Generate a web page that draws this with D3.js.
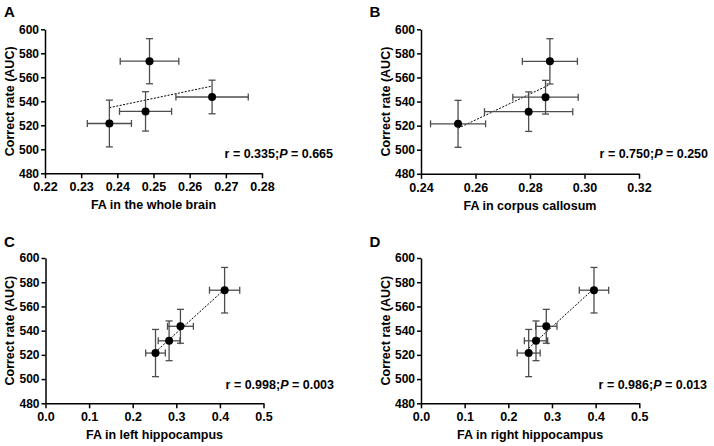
<!DOCTYPE html>
<html lang="en">
<head>
  <meta charset="UTF-8">
  <title>FA vs correct rate</title>
  <script src="https://d3js.org/d3.v7.min.js"></script>
  <style>
    body { margin: 0; background: #fff; }
    text { font-family: Arial, "Liberation Sans", sans-serif; font-weight: bold; }
    .axis path, .axis line { stroke: #000; stroke-width: 1.5; }
    .axis text { fill: #000; }
  </style>
</head>
<body>
  <svg width="714" height="446"></svg>
  <script>
    // shared y values (correct rate, AUC) with SD
    const auc = [521.5, 531.6, 543.6, 573.4];
    const aucErr = [19.5, 16.4, 14, 18.8];
    const yTicks = [480, 500, 520, 540, 560, 580, 600];

    // FA per region, same order as auc
    const faWhole = [0.2378, 0.2478, 0.2662, 0.2489];
    const faWholeErr = [0.0061, 0.0072, 0.0100, 0.0081];
    const faCallosum = [0.2536, 0.2795, 0.2857, 0.2873];
    const faCallosumErr = [0.0101, 0.0162, 0.0120, 0.0101];
    const faLeftHip = [0.2523, 0.2835, 0.3095, 0.4108];
    const faLeftHipErr = [0.0225, 0.0250, 0.0297, 0.0347];
    const faRightHip = [0.2466, 0.2634, 0.2870, 0.3962];
    const faRightHipErr = [0.0263, 0.0267, 0.0244, 0.0336];

    const wholeTicks = [0.22, 0.23, 0.24, 0.25, 0.26, 0.27, 0.28];
    const callosumTicks = [0.24, 0.26, 0.28, 0.30, 0.32];
    const hipTicks = [0, 0.1, 0.2, 0.3, 0.4, 0.5];

    const panels = [
      { letter: "A", x: faWhole, xErr: faWholeErr, ticks: wholeTicks, fmt: ".2f",
        title: "FA in the whole brain", r: "0.335", p: "0.665",
        left: 45, right: 262, top: 29.3, bottom: 173.3, lx: 4, ly: 16.5, statX: 333, statY: 158 },
      { letter: "B", x: faCallosum, xErr: faCallosumErr, ticks: callosumTicks, fmt: ".2f",
        title: "FA in corpus callosum", r: "0.750", p: "0.250",
        left: 421, right: 639, top: 29.3, bottom: 173.8, lx: 369.5, ly: 16.5, statX: 708, statY: 158 },
      { letter: "C", x: faLeftHip, xErr: faLeftHipErr, ticks: hipTicks, fmt: ".1f",
        title: "FA in left hippocampus", r: "0.998", p: "0.003",
        left: 45.5, right: 263.5, top: 258, bottom: 403.3, lx: 4, ly: 247, statX: 334, statY: 389 },
      { letter: "D", x: faRightHip, xErr: faRightHipErr, ticks: hipTicks, fmt: ".1f",
        title: "FA in right hippocampus", r: "0.986", p: "0.013",
        left: 421, right: 639.3, top: 258, bottom: 403.3, lx: 369.5, ly: 247, statX: 707, statY: 389 }
    ];

    const svg = d3.select("svg");

    function regression(xs, ys) {
      const mx = d3.mean(xs), my = d3.mean(ys);
      let sxy = 0, sxx = 0;
      xs.forEach((x, i) => {
        sxy += (x - mx) * (ys[i] - my);
        sxx += (x - mx) * (x - mx);
      });
      const slope = sxy / sxx;
      return x => my + slope * (x - mx);
    }

    panels.forEach(p => {
      const g = svg.append("g");

      const x = d3.scaleLinear()
        .domain(d3.extent(p.ticks))
        .range([p.left, p.right]);
      const y = d3.scaleLinear()
        .domain([480, 600])
        .range([p.bottom, p.top]);

      g.append("g")
        .attr("class", "axis")
        .attr("transform", `translate(0,${p.bottom})`)
        .call(d3.axisBottom(x).tickValues(p.ticks).tickFormat(d3.format(p.fmt))
          .tickSize(5).tickSizeOuter(0).tickPadding(4))
        .selectAll("text").style("font-size", "12.5px");

      g.append("g")
        .attr("class", "axis")
        .attr("transform", `translate(${p.left},0)`)
        .call(d3.axisLeft(y).tickValues(yTicks).tickSize(4).tickSizeOuter(0).tickPadding(2))
        .selectAll("text").style("font-size", "12px");

      // titles
      g.append("text")
        .attr("x", (p.left + p.right) / 2)
        .attr("y", p.bottom + 36)
        .attr("text-anchor", "middle")
        .style("font-size", "12.5px")
        .text(p.title);

      g.append("text")
        .attr("transform", `translate(${p.left - 31.5},${(p.top + p.bottom) / 2}) rotate(-90)`)
        .attr("text-anchor", "middle")
        .style("font-size", "12.5px")
        .text("Correct rate (AUC)");

      g.append("text")
        .attr("x", p.lx)
        .attr("y", p.ly)
        .style("font-size", "15px")
        .text(p.letter);

      // stats text
      const st = g.append("text")
        .attr("x", p.statX)
        .attr("y", p.statY)
        .attr("text-anchor", "end")
        .style("font-size", "12.5px");
      st.append("tspan").text(`r = ${p.r};`);
      st.append("tspan").style("font-style", "italic").text("P");
      st.append("tspan").text(` = ${p.p}`);

      // regression line
      const fit = regression(p.x, auc);
      const xMin = d3.min(p.x), xMax = d3.max(p.x);
      g.append("line")
        .attr("x1", x(xMin)).attr("y1", y(fit(xMin)))
        .attr("x2", x(xMax)).attr("y2", y(fit(xMax)))
        .attr("stroke", "#000")
        .attr("stroke-width", 1)
        .attr("stroke-dasharray", "2,1.5");

      const pts = p.x.map((v, i) => ({ x: v, xe: p.xErr[i], y: auc[i], ye: aucErr[i] }));
      const cap = 3.5;
      const eb = g.append("g").attr("stroke", "#4d4d4d").attr("stroke-width", 1.3).attr("fill", "none");

      pts.forEach(d => {
        const cx = x(d.x), cy = y(d.y);
        const x0 = x(d.x - d.xe), x1 = x(d.x + d.xe);
        const y0 = y(d.y - d.ye), y1 = y(d.y + d.ye);
        eb.append("line").attr("x1", x0).attr("x2", x1).attr("y1", cy).attr("y2", cy);
        eb.append("line").attr("x1", x0).attr("x2", x0).attr("y1", cy - cap).attr("y2", cy + cap);
        eb.append("line").attr("x1", x1).attr("x2", x1).attr("y1", cy - cap).attr("y2", cy + cap);
        eb.append("line").attr("x1", cx).attr("x2", cx).attr("y1", y0).attr("y2", y1);
        eb.append("line").attr("x1", cx - cap).attr("x2", cx + cap).attr("y1", y0).attr("y2", y0);
        eb.append("line").attr("x1", cx - cap).attr("x2", cx + cap).attr("y1", y1).attr("y2", y1);
      });

      g.append("g")
        .selectAll("circle")
        .data(pts)
        .enter().append("circle")
        .attr("cx", d => x(d.x))
        .attr("cy", d => y(d.y))
        .attr("r", 4)
        .attr("fill", "#000");
    });
  </script>
</body>
</html>
